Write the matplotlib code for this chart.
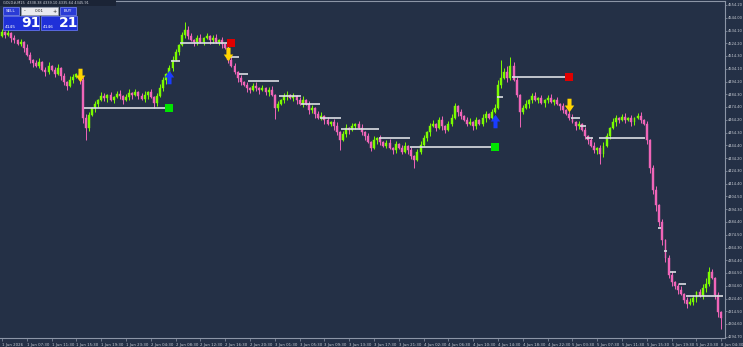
import numpy as np
import matplotlib
matplotlib.use("Agg")
import matplotlib.pyplot as plt
from matplotlib import patches
from matplotlib.path import Path

# 30 min bars, GOLD#
first_open = 4530.0
closes = [4533.1, 4530.7, 4532.3, 4528.4, 4526.8, 4523.7, 4525.2, 4520.5, 4515.1, 4511.1,
          4508.8, 4506.5, 4509.6, 4503.3, 4501.8, 4506.5, 4503.3, 4500.2, 4504.9, 4498.6,
          4493.9, 4490.8, 4495.5, 4497.8, 4500.2, 4495.5, 4465.8, 4457.9, 4468.1, 4473.6,
          4476.7, 4479.8, 4483.0, 4481.4, 4483.8, 4479.8, 4482.2, 4484.5, 4483.0, 4479.8,
          4482.2, 4485.3, 4483.8, 4486.1, 4483.0, 4480.6, 4483.8, 4486.1, 4482.2, 4477.5,
          4483.0, 4489.2, 4495.5, 4500.2, 4504.9, 4511.1, 4517.4, 4522.9, 4530.7, 4534.6,
          4529.9, 4526.8, 4525.2, 4528.4, 4525.2, 4528.4, 4529.9, 4526.8, 4528.4, 4525.2,
          4526.8, 4523.7, 4520.5, 4511.1, 4506.5, 4501.8, 4497.1, 4493.9, 4491.6, 4489.2,
          4487.7, 4490.8, 4489.2, 4487.7, 4489.2, 4486.1, 4487.7, 4483.8, 4473.6, 4476.7,
          4479.8, 4483.0, 4483.8, 4481.4, 4483.0, 4479.8, 4476.7, 4479.8, 4476.7, 4472.0,
          4473.6, 4468.9, 4465.8, 4467.3, 4464.2, 4461.1, 4462.6, 4459.5, 4454.8, 4448.5,
          4453.2, 4457.9, 4456.4, 4459.5, 4461.1, 4457.9, 4454.8, 4451.7, 4447.0, 4442.3,
          4448.5, 4450.1, 4447.0, 4443.9, 4446.2, 4442.3, 4440.7, 4445.4, 4442.3, 4439.2,
          4443.9, 4440.7, 4436.0, 4432.9, 4439.2, 4444.6, 4450.1, 4454.8, 4459.5, 4461.1,
          4457.9, 4464.2, 4459.5, 4456.4, 4461.1, 4465.8, 4475.2, 4470.5, 4467.3, 4464.2,
          4461.1, 4462.6, 4459.5, 4464.2, 4461.1, 4465.8, 4468.9, 4465.8, 4470.5, 4473.6,
          4491.6, 4497.1, 4501.8, 4497.1, 4506.5, 4495.5, 4483.8, 4470.5, 4473.6, 4476.7,
          4479.8, 4483.0, 4479.8, 4481.4, 4477.5, 4479.8, 4481.4, 4478.3, 4479.8, 4476.7,
          4475.2, 4472.0, 4468.9, 4465.8, 4462.6, 4459.5, 4461.1, 4456.4, 4451.7, 4448.5,
          4443.9, 4440.7, 4442.3, 4437.6, 4443.9, 4451.7, 4457.9, 4462.6, 4465.8, 4464.2,
          4466.5, 4464.2, 4465.8, 4462.6, 4465.8, 4467.3, 4464.2, 4461.1, 4448.5, 4426.6,
          4409.4, 4397.7, 4384.4, 4370.3, 4356.2, 4342.9, 4337.4, 4334.3, 4331.2, 4328.0,
          4323.3, 4320.2, 4321.8, 4324.9, 4329.6, 4326.5, 4332.7, 4335.9, 4345.3, 4340.6,
          4327.3, 4314.0, 4309.3]
wick_up = [2, 1, 3, 1, 2, 1, 2, 1, 3, 2,  1, 2, 3, 1, 2, 3, 1, 2, 3, 1,
           2, 1, 3, 2, 1, 2, 2, 3, 2, 1,  2, 1, 3, 2, 1, 2, 1, 2, 3, 1,
           2, 3, 1, 2, 1, 2, 3, 1, 2, 1,  2, 3, 2, 1, 2, 3, 2, 1, 2, 6,
           3, 2, 1, 2, 3, 1, 2, 1, 2, 3,  1, 2, 1, 2, 3, 2, 1, 2, 1, 2,
           1, 2, 3, 1, 2, 1, 2, 3, 1, 2,  1, 2, 3, 1, 2, 1, 2, 3, 1, 2,
           2, 1, 2, 3, 1, 2, 1, 2, 3, 1,  2, 3, 1, 2, 1, 2, 3, 1, 2, 1,
           3, 1, 2, 1, 2, 3, 1, 2, 1, 2,  3, 1, 2, 1, 2, 3, 2, 1, 2, 3,
           1, 2, 3, 1, 2, 3, 2, 1, 2, 1,  2, 3, 1, 2, 1, 3, 2, 1, 2, 3,
           4, 14, 3, 5, 7, 3, 2, 1, 2, 3, 1, 2, 3, 1, 2, 1, 2, 3, 1, 2,
           1, 2, 1, 2, 3, 1, 2, 1, 2, 1,  2, 3, 1, 2, 3, 2, 1, 3, 2, 1,
           2, 3, 1, 2, 1, 2, 3, 1, 2, 1,  2, 3, 1, 2, 1, 2, 3, 1, 2, 3,
           1, 2, 3, 2, 1, 2, 3, 5, 4, 2,  1, 2, 1]
wick_dn = [1, 2, 1, 3, 2, 1, 2, 3, 1, 2,  3, 1, 2, 1, 3, 2, 1, 2, 1, 3,
           2, 3, 1, 2, 1, 3, 4, 9, 2, 1,  3, 2, 1, 2, 3, 1, 2, 1, 2, 3,
           1, 2, 3, 1, 2, 1, 2, 3, 1, 4,  2, 1, 2, 3, 1, 2, 1, 2, 1, 2,
           2, 1, 3, 2, 1, 2, 1, 3, 2, 1,  2, 3, 1, 2, 1, 2, 3, 2, 1, 3,
           2, 1, 2, 3, 1, 2, 3, 1, 9, 2,  1, 2, 3, 1, 2, 3, 1, 2, 1, 3,
           2, 3, 1, 2, 3, 1, 2, 3, 2, 8,  1, 2, 3, 1, 2, 1, 2, 3, 1, 2,
           1, 3, 2, 1, 2, 1, 3, 2, 1, 2,  1, 3, 2, 6, 1, 2, 1, 2, 3, 1,
           2, 1, 3, 2, 1, 2, 1, 3, 2, 1,  2, 1, 3, 2, 1, 2, 3, 1, 2, 1,
           1, 2, 1, 3, 2, 1, 2, 12, 2, 1, 3, 2, 1, 2, 1, 3, 2, 1, 2, 1,
           3, 2, 1, 2, 1, 3, 2, 1, 2, 3,  1, 2, 3, 8, 2, 1, 2, 1, 3, 2,
           1, 2, 1, 3, 2, 1, 2, 1, 3, 4,  3, 5, 3, 4, 3, 2, 3, 2, 3, 1,
           2, 3, 1, 2, 3, 1, 2, 3, 2, 1,  3, 4, 9]

price_labels = ["4554.20", "4544.00", "4534.10", "4524.20", "4514.30", "4504.10", "4494.20",
                "4484.30", "4474.40", "4464.20", "4454.30", "4444.40", "4434.20", "4424.30",
                "4414.40", "4404.50", "4394.30", "4384.40", "4374.50", "4364.30", "4354.40",
                "4344.50", "4334.60", "4324.40", "4314.50", "4304.60", "4294.70"]
time_labels = ["1 Jun 2026", "1 Jun 07:30", "1 Jun 11:30", "1 Jun 15:30", "1 Jun 19:30",
               "1 Jun 23:30", "2 Jun 04:30", "2 Jun 08:30", "2 Jun 12:30", "2 Jun 16:30",
               "2 Jun 20:30", "3 Jun 01:30", "3 Jun 05:30", "3 Jun 09:30", "3 Jun 13:30",
               "3 Jun 17:30", "3 Jun 21:30", "4 Jun 02:30", "4 Jun 06:30", "4 Jun 10:30",
               "4 Jun 14:30", "4 Jun 18:30", "4 Jun 22:30", "5 Jun 03:30", "5 Jun 07:30",
               "5 Jun 11:30", "5 Jun 15:30", "5 Jun 19:30", "5 Jun 23:30", "8 Jun 04:30"]
bars_per_label = 8

# signals: bar index, price
sell_bars = [25, 73, 183]
sell_prices = [4499.4, 4515.5, 4475.9]
buy_bars = [54, 159]
buy_prices = [4497.8, 4463.4]
green_bars = [54, 159]
green_prices = [4473.6, 4443.1]
red_bars = [74, 183]
red_prices = [4524.5, 4497.8]
# white stop / level lines: (first bar, last bar, price)
level_lines = [(27, 53, 4473.6), (55, 57, 4510.4), (58, 73, 4524.5), (74, 76, 4513.5),
               (77, 79, 4500.2), (80, 89, 4494.7), (90, 96, 4483.0), (97, 102, 4476.7),
               (103, 109, 4465.8), (110, 121, 4457.1), (122, 131, 4450.1), (132, 158, 4443.1),
               (160, 161, 4482.2), (165, 182, 4497.8), (184, 186, 4465.8), (187, 188, 4459.5),
               (189, 190, 4450.1), (193, 207, 4450.1), (212, 212, 4380.0), (214, 214, 4362.0),
               (216, 217, 4345.0), (219, 220, 4336.0), (221, 232, 4326.5)]

BG = "#243046"
UP = "#7cfc00"
DN = "#f065b8"
AXC = "#8c95a6"

closes = np.array(closes)
opens = np.concatenate([[first_open], closes[:-1]])
highs = np.maximum(opens, closes) + np.array(wick_up)
lows = np.minimum(opens, closes) - np.array(wick_dn)
x = np.arange(len(closes))
cols = np.where(closes >= opens, UP, DN)

fig = plt.figure(figsize=(7.43, 3.47), dpi=100, facecolor=BG)
ax = fig.add_axes([0, 9 / 347, 725 / 743, 337 / 347])
ax.set_facecolor(BG)

ax.vlines(x, lows, highs, colors=cols, lw=0.7)
ax.bar(x, closes - opens, bottom=opens, width=0.62, color=cols, edgecolor=cols, linewidth=0.3)

for s, e, p in level_lines:
    ax.hlines(p, s - 0.5, e + 0.5, color="#dcdfe4", lw=1.2)

down_arrow = Path([(-0.3, 1), (0.3, 1), (0.3, 0), (0.7, 0), (0, -1), (-0.7, 0), (-0.3, 0), (-0.3, 1)],
                  [1, 2, 2, 2, 2, 2, 2, 79])
up_arrow = Path([(-0.3, -1), (0.3, -1), (0.3, 0), (0.7, 0), (0, 1), (-0.7, 0), (-0.3, 0), (-0.3, -1)],
                [1, 2, 2, 2, 2, 2, 2, 79])
ax.scatter(sell_bars, sell_prices, marker=down_arrow, s=95, color="#ffd400", lw=0, zorder=5)
ax.scatter(buy_bars, buy_prices, marker=up_arrow, s=95, color="#1a3cff", lw=0, zorder=5)
ax.scatter(green_bars, green_prices, marker="s", s=30, color="#00e400", lw=0, zorder=5)
ax.scatter(red_bars, red_prices, marker="s", s=30, color="#e00000", lw=0, zorder=5)

ax.set_xlim(-0.645, 233.2)
ax.set_ylim(4293.6, 4557.3)

ax.yaxis.tick_right()
ax.set_yticks([float(v) for v in price_labels])
ax.set_yticklabels(price_labels)
ax.set_xticks([i * bars_per_label for i in range(len(time_labels))])
ax.set_xticklabels(time_labels, ha="left")
ax.tick_params(axis="y", length=1.2, width=0.5, color=AXC, labelsize=2.6, labelcolor="#c8ccd4", pad=0.5)
ax.tick_params(axis="x", length=2.5, width=0.5, color=AXC, labelsize=2.8, labelcolor="#c8ccd4", pad=1)
ax.spines["left"].set_visible(False)
for sp in ["top", "right", "bottom"]:
    ax.spines[sp].set_color(AXC)
    ax.spines[sp].set_linewidth(0.8)

# one click trading panel
ui = fig.add_axes([0, 0, 1, 1])
ui.set_xlim(0, 743)
ui.set_ylim(347, 0)
ui.axis("off")
ui.add_patch(patches.Rectangle((0, 0), 116, 5.5, facecolor="#1b2436", edgecolor="none"))
ui.text(3, 2.8, "GOLD#,M15  4338.38 4339.10 4335.64 4345.91", fontsize=2.5, color="#d0d4dc", va="center")
ui.add_patch(patches.Rectangle((3, 7), 16, 8, facecolor="#2a3bd6", edgecolor="#7d8cff", lw=0.5))
ui.text(11, 11, "SELL", fontsize=3, color="white", ha="center", va="center")
ui.add_patch(patches.Rectangle((21, 7), 37, 8, facecolor="#e9eaef", edgecolor="#9aa0b0", lw=0.5))
ui.text(24.5, 11, "-", fontsize=3.5, color="#222", ha="center", va="center")
ui.text(39.5, 11, "0.01", fontsize=3, color="#222", ha="center", va="center")
ui.text(54.5, 11, "+", fontsize=3.5, color="#222", ha="center", va="center")
ui.add_patch(patches.Rectangle((60, 7), 16, 8, facecolor="#2a3bd6", edgecolor="#7d8cff", lw=0.5))
ui.text(68, 11, "BUY", fontsize=3, color="white", ha="center", va="center")
for bx, small, big in [(3, "4145", "91"), (41, "4146", "21")]:
    ui.add_patch(patches.Rectangle((bx, 16), 36, 14, facecolor="#1f30d8", edgecolor="#6f7fff", lw=0.5))
    ui.text(bx + 2, 26.5, small, fontsize=3.2, color="white", va="center")
    ui.text(bx + 18, 23, big, fontsize=10, color="white", va="center", fontweight="bold")

fig.savefig("out.png", dpi=100, facecolor=BG)
